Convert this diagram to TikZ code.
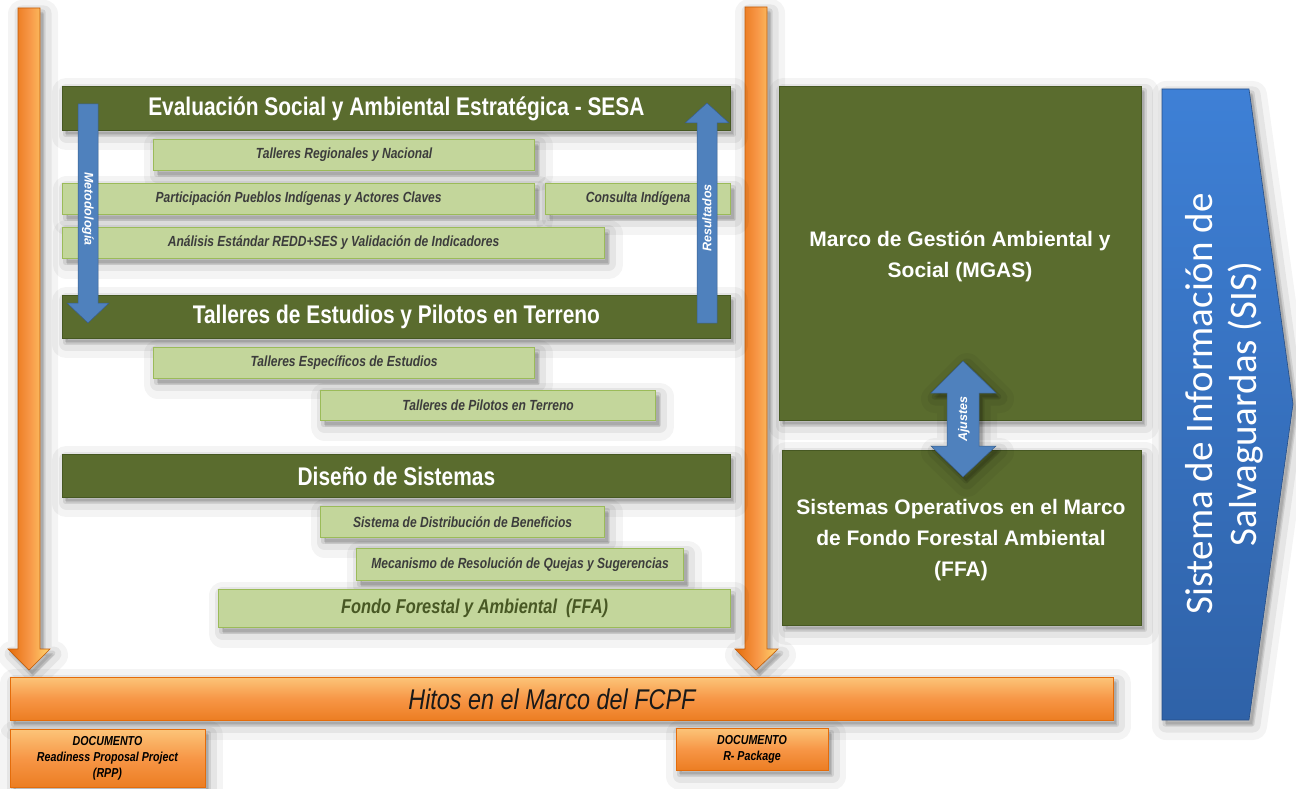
\documentclass[tikz,border=0pt]{standalone}
\usepackage{fontspec}
\setmainfont{Liberation Sans}
\newfontfamily\narrowf[FakeStretch=0.82]{Liberation Sans}
\newfontfamily\calfont{Carlito}
\definecolor{dkgreen}{RGB}{90,108,46}
\definecolor{dkgreenB}{RGB}{70,88,34}
\definecolor{ltgreen}{RGB}{195,214,155}
\definecolor{ltgreenB}{RGB}{155,187,89}
\definecolor{boxtext}{RGB}{60,60,60}
\definecolor{ffatext}{RGB}{72,88,36}
\definecolor{orM}{RGB}{247,150,70}
\definecolor{orD}{RGB}{228,108,10}
\definecolor{orL}{RGB}{252,196,120}
\definecolor{orY}{RGB}{255,214,110}
\definecolor{blueA}{RGB}{79,129,189}
\definecolor{blueB}{RGB}{56,93,138}
\definecolor{sisT}{RGB}{62,128,214}
\definecolor{sisB}{RGB}{47,98,168}
\tikzset{
  shd/.style={
    preaction={fill=black, draw=black, opacity=0.045, line width=28pt, line join=round, transform canvas={shift={(4pt,-6pt)}}},
    preaction={fill=black, draw=black, opacity=0.06, line width=15pt, line join=round, transform canvas={shift={(4pt,-5pt)}}},
    preaction={fill=black, draw=black, opacity=0.09, line width=5pt, line join=round, transform canvas={shift={(3pt,-4pt)}}}},
  hdr/.style={shd, rectangle, fill=dkgreen, draw=dkgreenB, line width=0.8pt, inner sep=0pt, anchor=north west, text=white, font=\narrowf\bfseries\fontsize{25.5}{28}\selectfont},
  lbox/.style={shd, rectangle, fill=ltgreen, draw=ltgreenB, line width=1.2pt, inner sep=0pt, anchor=north west, text=boxtext, font=\narrowf\bfseries\itshape\fontsize{14.7}{17}\selectfont},
  bigbox/.style={shd, rectangle, fill=dkgreen, draw=dkgreenB, line width=0.8pt, inner sep=0pt, anchor=north west},
  bigtext/.style={text=white, align=center, font=\bfseries\fontsize{21}{31}\selectfont},
  orbox/.style={shd, rectangle, top color=orL, bottom color=orD!60!orM, middle color=orM, draw=orD, line width=0.8pt, inner sep=0pt, anchor=north west},
  doctext/.style={align=center, text=black, font=\narrowf\bfseries\itshape\fontsize{13}{16}\selectfont},
  orarrow/.style={shd, left color=orD, right color=orY, middle color=orM, draw=orD!85!black, line width=0.6pt},
  barrow/.style={fill=blueA, draw=blueB, line width=0.5pt},
  arrlabel/.style={text=white, inner sep=0pt, font=\bfseries\itshape\fontsize{12.5}{14}\selectfont},
}
\begin{document}
\begin{tikzpicture}[x=1pt, y=-1pt]
\useasboundingbox (0,0) rectangle (1296,789);
\fill[white] (0,0) rectangle (1296,789);

% orange timeline arrows
\path[orarrow] (18,8) -- (40,8) -- (40,649) -- (50,649) -- (29,670) -- (8,649) -- (18,649) -- cycle;
\path[orarrow] (745,7) -- (767,7) -- (767,649) -- (778,649) -- (756,670) -- (735,649) -- (745,649) -- cycle;

% header bars
\node[hdr, minimum width=668pt, minimum height=44pt] (sesa) at (62,86) {Evaluación Social y Ambiental Estratégica - SESA};
\node[hdr, minimum width=668pt, minimum height=43pt] (talleres) at (62,295) {Talleres de Estudios y Pilotos en Terreno};
\node[hdr, minimum width=668pt, minimum height=43pt] (diseno) at (62,454) {Diseño de Sistemas};

% light boxes
\node[lbox, minimum width=381pt, minimum height=31pt] (reg) at (153,139) {Talleres Regionales y Nacional};
\node[lbox, minimum width=472pt, minimum height=31pt] (part) at (62,183) {Participación Pueblos Indígenas y Actores Claves};
\node[lbox, minimum width=185pt, minimum height=31pt] (cons) at (545,183) {Consulta Indígena};
\node[lbox, minimum width=542pt, minimum height=31pt] (anal) at (62,227) {Análisis Estándar REDD+SES y Validación de Indicadores};
\node[lbox, minimum width=381pt, minimum height=31pt] (esp) at (153,347) {Talleres Específicos de Estudios};
\node[lbox, minimum width=335pt, minimum height=30pt] (pil) at (320,390) {Talleres de Pilotos en Terreno};
\node[lbox, minimum width=284pt, minimum height=31pt] (dist) at (320,506) {Sistema de Distribución de Beneficios};
\node[lbox, minimum width=327pt, minimum height=32pt] (meca) at (356,548) {Mecanismo de Resolución de Quejas y Sugerencias};
\node[lbox, minimum width=512pt, minimum height=38pt, text=ffatext, font=\narrowf\bfseries\itshape\fontsize{20}{22}\selectfont] (fondo) at (218,589) {Fondo Forestal y Ambiental\ \ (FFA)};

% blue vertical arrows
\path[barrow] (78,104) -- (98,104) -- (98,303) -- (109,303) -- (88,323) -- (67,303) -- (78,303) -- cycle;
\node[arrlabel, rotate=-90] (met) at (88,209) {Metodología};
\path[barrow] (697,323) -- (717,323) -- (717,123) -- (729,123) -- (707,103) -- (685,123) -- (697,123) -- cycle;
\node[arrlabel, rotate=90] (res) at (707,218) {Resultados};

% right boxes
\node[bigbox, minimum width=362pt, minimum height=334pt] (mgas) at (779,86) {};
\node[bigtext] (mgast) at (960,256) {Marco de Gestión Ambiental y\\Social (MGAS)};
\node[bigbox, minimum width=359pt, minimum height=175pt] (ffa) at (782,450) {};
\node[bigtext] (ffat) at (961,540) {Sistemas Operativos en el Marco\\de Fondo Forestal Ambiental\\(FFA)};

% Ajustes double arrow
\path[barrow, shd] (947,393) -- (931,393) -- (963,361) -- (996,393) -- (979,393) -- (979,446) -- (996,446) -- (963,477) -- (931,446) -- (947,446) -- cycle;
\node[arrlabel, rotate=90] (aju) at (964,419) {Ajustes};

% SIS arrow
\path[shd, top color=sisT, bottom color=sisB, draw=sisB!80!black, line width=0.6pt] (1162,89) -- (1249,89) -- (1293,404) -- (1249,720) -- (1162,720) -- cycle;
\node[rotate=90, align=center, text=white, inner sep=0pt, font=\calfont\fontsize{39}{44}\selectfont] (sis) at (1224,404) {Sistema de Información de\\Salvaguardas (SIS)};

% milestones bar
\node[orbox, minimum width=1103pt, minimum height=43pt, font=\narrowf\itshape\fontsize{28.5}{30}\selectfont, text=black!90] (hitos) at (10,677) {Hitos en el Marco del FCPF\hspace*{20pt}};
\node[orbox, minimum width=195pt, minimum height=58pt] (rpp) at (10,729) {};
\node[doctext] (rppt) at (107.5,758) {DOCUMENTO\\Readiness Proposal Project\\(RPP)};
\node[orbox, minimum width=152pt, minimum height=42pt] (rpack) at (676,728) {};
\node[doctext] (rpackt) at (752,749) {DOCUMENTO\\R- Package};
\end{tikzpicture}
\end{document}
